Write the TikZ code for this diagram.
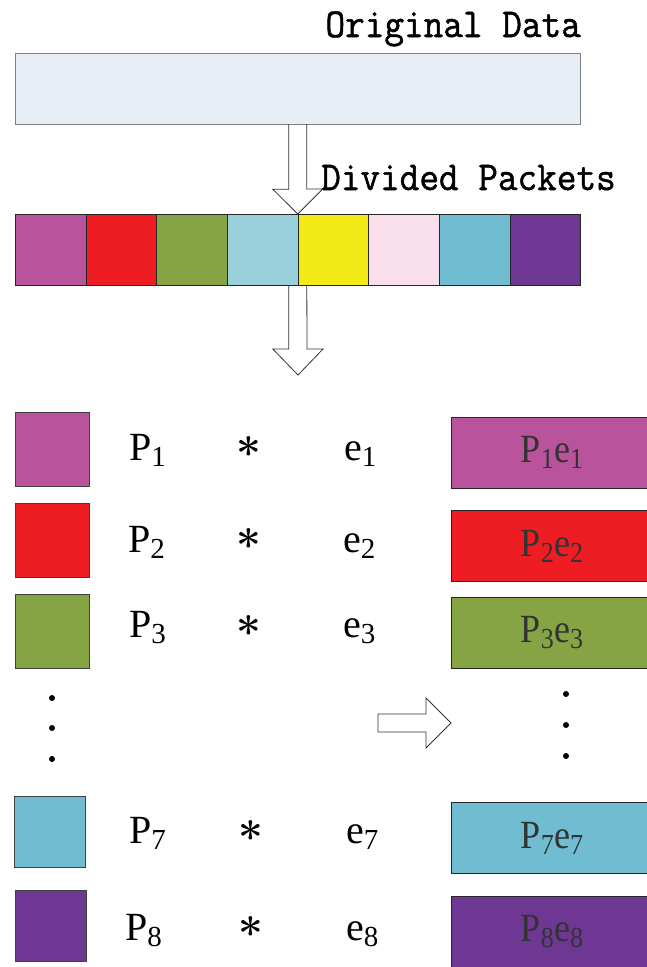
\documentclass[tikz,border=0pt]{standalone}
\usepackage{fontspec}
\setmainfont{Liberation Serif}
\newfontfamily\codefont[FakeStretch=0.93,FakeBold=1.2]{Latin Modern Mono}
\newfontfamily\prodfont[FakeStretch=0.9]{Liberation Serif}
\newfontfamily\starfont{Latin Modern Roman}
\usetikzlibrary{positioning,calc}

\definecolor{origfill}{RGB}{232,238,246}
\definecolor{pkA}{RGB}{184,83,156}
\definecolor{pkB}{RGB}{238,29,36}
\definecolor{pkC}{RGB}{134,164,67}
\definecolor{pkD}{RGB}{154,208,220}
\definecolor{pkE}{RGB}{242,234,23}
\definecolor{pkF}{RGB}{248,223,235}
\definecolor{pkG}{RGB}{112,189,209}
\definecolor{pkH}{RGB}{109,55,147}

% lowered index digit in the text font
\newcommand\lowidx[1]{\raisebox{-6pt}{\fontsize{29}{30}\selectfont #1}}

\begin{document}
\begin{tikzpicture}[x=1pt, y=-1pt,
  orig/.style   ={draw=black!50, fill=origfill, minimum width=565.5pt,
                  minimum height=71pt, inner sep=0pt},
  cell/.style   ={draw=black!85, minimum width=70.7pt, minimum height=71pt,
                  inner sep=0pt, outer sep=0pt},
  sq/.style     ={draw=black!75, minimum size=74pt, inner sep=0pt},
  prod/.style   ={draw=black!85, minimum width=202pt, minimum height=71pt,
                  inner sep=0pt, text=black!80, font=\fontsize{40}{44}\selectfont\prodfont},
  caption/.style={font=\fontsize{41}{44}\selectfont\codefont, inner sep=0pt},
  sym/.style    ={font=\fontsize{40}{44}\selectfont, inner sep=0pt, anchor=base west},
  times/.style  ={font=\fontsize{44}{48}\selectfont\starfont\bfseries, inner sep=0pt},
  dot/.style    ={circle, fill=black, inner sep=0pt, minimum size=6pt},
  fat/.style    ={draw=black!80, line width=0.8pt, line join=miter}]

\useasboundingbox (0,0) rectangle (647,967);
\clip (0,0) rectangle (647,967);

% the data and its packets
\node[caption, anchor=base east] (origlbl) at (581,37) {Original Data};
\node[orig] (orig) at (297.75,88.5) {};
\node[caption, anchor=base west] (divlbl) at (321,190) {Divided Packets};

\node[cell, fill=pkA] (p1) at (50.35,249.5) {};
\node[cell, fill=pkB, right=0pt of p1] (p2) {};
\node[cell, fill=pkC, right=0pt of p2] (p3) {};
\node[cell, fill=pkD, right=0pt of p3] (p4) {};
\node[cell, fill=pkE, right=0pt of p4] (p5) {};
\node[cell, fill=pkF, right=0pt of p5] (p6) {};
\node[cell, fill=pkG, right=0pt of p6] (p7) {};
\node[cell, fill=pkH, right=0pt of p7] (p8) {};

% packet times key, one row each
\node[sq, fill=pkA] (s1) at (52,449) {};
\node[sym] (P1) at (129,460) {P\lowidx{1}};
\node[times] (m1) at (248.5,453) {*};
\node[sym] (e1) at (344,460) {e\lowidx{1}};
\node[prod, fill=pkA] (r1) at (552,452.5) {P\lowidx{1}e\lowidx{1}};

\node[sq, fill=pkB] (s2) at (52,540.5) {};
\node[sym] (P2) at (128,552) {P\lowidx{2}};
\node[times] (m2) at (248.5,545) {*};
\node[sym] (e2) at (343,552) {e\lowidx{2}};
\node[prod, fill=pkB] (r2) at (552,546) {P\lowidx{2}e\lowidx{2}};

\node[sq, fill=pkC] (s3) at (52,631.5) {};
\node[sym] (P3) at (129,637) {P\lowidx{3}};
\node[times] (m3) at (248.5,632) {*};
\node[sym] (e3) at (343,637) {e\lowidx{3}};
\node[prod, fill=pkC] (r3) at (552,632.5) {P\lowidx{3}e\lowidx{3}};

\node[dot] (ld1) at (52,698) {};
\node[dot] (ld2) at (52,728) {};
\node[dot] (ld3) at (52,759) {};
\node[dot] (rd1) at (566,694) {};
\node[dot] (rd2) at (566,725) {};
\node[dot] (rd3) at (566,756) {};

\node[sq, fill=pkG, minimum size=71pt] (s7) at (49.75,831.5) {};
\node[sym] (P7) at (129,843) {P\lowidx{7}};
\node[times] (m7) at (251,837) {*};
\node[sym] (e7) at (346,843) {e\lowidx{7}};
\node[prod, fill=pkG] (r7) at (552,838) {P\lowidx{7}e\lowidx{7}};

\node[sq, fill=pkH, minimum size=71pt] (s8) at (50.5,925.5) {};
\node[sym] (P8) at (125,940) {P\lowidx{8}};
\node[times] (m8) at (251,932.5) {*};
\node[sym] (e8) at (346,940) {e\lowidx{8}};
\node[prod, fill=pkH] (r8) at (552,932) {P\lowidx{8}e\lowidx{8}};

% hollow arrows
\coordinate (down) at (298,375);
\coordinate (rtail) at (378,723);
\coordinate (rtip) at (451,723);

\draw[fat] ($(orig.south)+(-9,0)$) -- ++(0,65) -- ++(-16,0) -- (p4.north east)
  -- ++(25,-25) -- ++(-16,0) -- ($(orig.south)+(9,0)$);
\draw[fat] ($(p4.south east)+(-9,0)$) -- ++(0,64) -- ++(-16,0) -- (down)
  -- ++(25,-26) -- ++(-16,0) -- ($(p4.south east)+(9,0)$);
\draw[fat] ($(rtail)+(0,-9)$) -- ++(48,0) -- ++(0,-16) -- (rtip)
  -- ++(-25,25) -- ++(0,-16) -- ($(rtail)+(0,9)$) -- cycle;
\end{tikzpicture}
\end{document}
